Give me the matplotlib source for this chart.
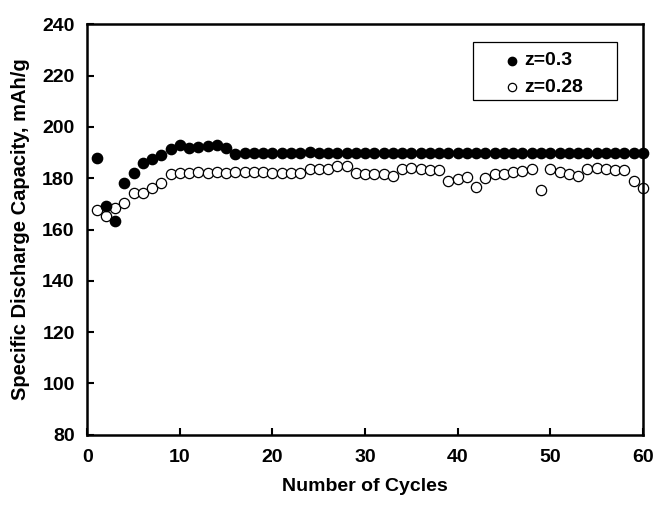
import numpy as np
import matplotlib.pyplot as plt
import matplotlib.ticker as ticker
from matplotlib.patches import Rectangle

plt.rcParams['font.family'] = ['Liberation Sans', 'DejaVu Sans']
plt.rcParams['font.weight'] = 'bold'

cycles = list(range(1, 61))
# z=0.3, filled circles
cap_03 = [188.0, 169.0, 163.5, 178.3, 182.1, 186.1, 187.4, 189.0, 191.3, 193.1,
          191.6, 192.2, 192.5, 192.8, 191.6, 189.6, 189.7, 189.7, 189.7, 189.7,
          189.7, 189.7, 189.8, 190.4, 189.7, 189.7, 189.7, 189.9, 189.7, 189.7,
          189.8, 189.7, 189.7, 189.8, 189.7, 189.7, 189.7, 189.7, 189.7, 189.8,
          189.8, 189.7, 189.7, 189.7, 189.7, 189.8, 189.8, 189.7, 189.7, 189.8,
          189.7, 189.7, 189.7, 189.8, 189.7, 189.7, 189.7, 189.7, 189.7, 189.7]
# z=0.28, open circles
cap_028 = [167.6, 165.2, 168.2, 170.2, 174.3, 174.3, 176.0, 178.2, 181.8, 182.1,
           182.2, 182.3, 182.2, 182.3, 182.2, 182.3, 182.4, 182.3, 182.3, 182.1,
           182.1, 182.1, 182.1, 183.5, 183.5, 183.5, 184.8, 184.8, 182.1, 181.8,
           181.8, 181.8, 180.8, 183.5, 183.8, 183.5, 183.3, 183.3, 179.0, 179.5,
           180.5, 176.6, 179.9, 181.8, 181.8, 182.5, 182.9, 183.5, 175.3, 183.4,
           182.3, 181.8, 180.9, 183.4, 184.0, 183.5, 183.1, 183.1, 179.0, 176.2]
labels = ['z=0.3', 'z=0.28']


def main():
    fig = plt.figure(figsize=(6.56, 5.05), dpi=100)
    ax = fig.add_axes([0.133, 0.139, 0.847, 0.813])

    ax.plot(cycles, cap_03, 'o', color='black', markersize=7.4, clip_on=False, zorder=3)
    ax.plot(cycles, cap_028, 'o', markerfacecolor='white', markeredgecolor='black',
            markeredgewidth=0.9, markersize=7.4, clip_on=False, zorder=2)

    ax.set_xlim(0, 60)
    ax.set_ylim(80, 240)
    ax.xaxis.set_major_locator(ticker.MultipleLocator(10))
    ax.yaxis.set_major_locator(ticker.MultipleLocator(20))
    ax.tick_params(direction='in', length=5, width=1.5, labelsize=14)
    ax.tick_params(axis='x', pad=10)
    ax.tick_params(axis='y', pad=9)
    for s in ax.spines.values():
        s.set_linewidth(1.8)

    ax.set_xlabel('Number of Cycles', fontsize=14, fontweight='bold', labelpad=9)
    ax.set_ylabel('Specific Discharge Capacity, mAh/g', fontsize=14.5, fontweight='bold', labelpad=9)

    # legend box drawn by hand (wide padding like the original)
    ax.add_patch(Rectangle((0.694, 0.815), 0.259, 0.141, transform=ax.transAxes,
                           facecolor='white', edgecolor='black', linewidth=0.9, zorder=4))
    ax.plot([0.764], [0.911], 'o', color='black', markersize=6, transform=ax.transAxes, zorder=5)
    ax.plot([0.764], [0.847], 'o', markerfacecolor='white', markeredgecolor='black',
            markeredgewidth=0.9, markersize=6, transform=ax.transAxes, zorder=5)
    ax.text(0.786, 0.911, labels[0], transform=ax.transAxes, fontsize=14, fontweight='bold',
            va='center', ha='left', zorder=5)
    ax.text(0.786, 0.847, labels[1], transform=ax.transAxes, fontsize=14, fontweight='bold',
            va='center', ha='left', zorder=5)

    fig.savefig('out.png', dpi=100)


if __name__ == '__main__':
    main()
